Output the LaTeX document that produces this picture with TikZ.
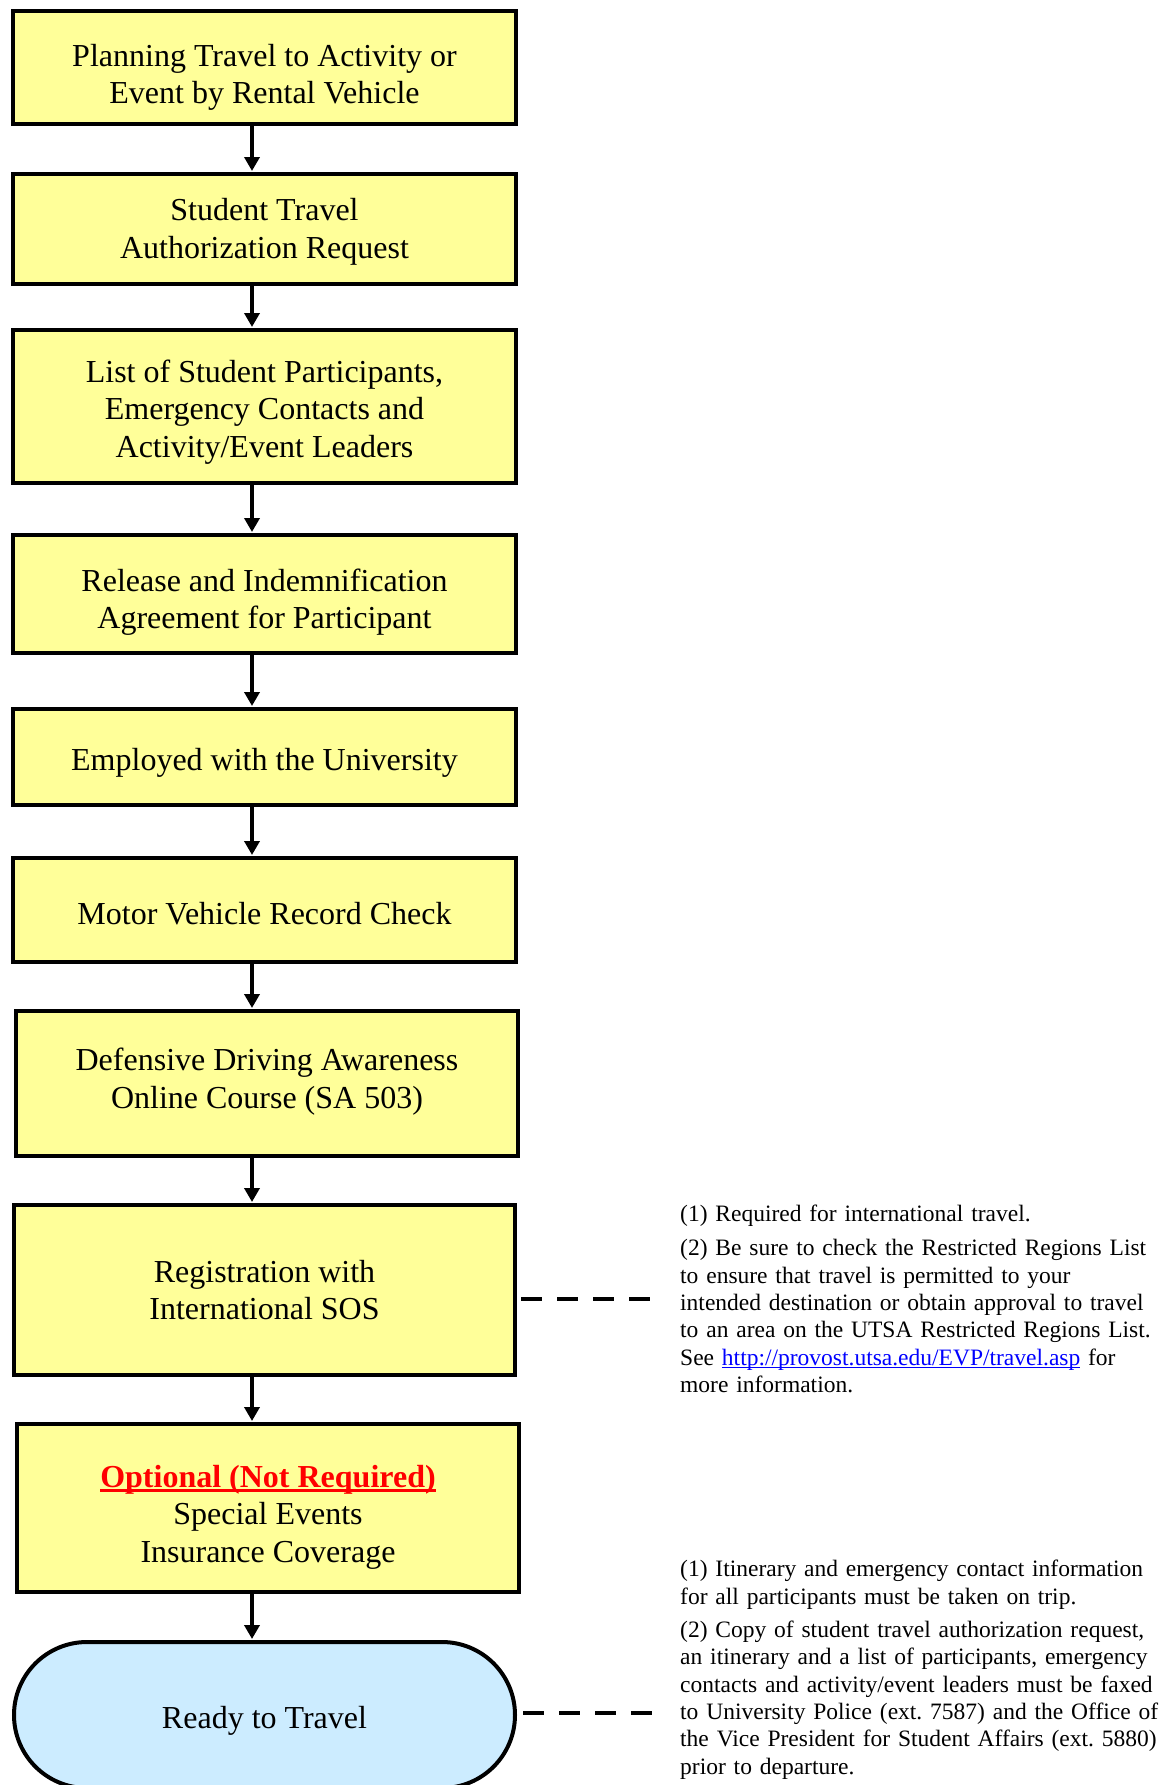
\documentclass[tikz,border=0pt]{standalone}
\usepackage{fontspec}
\setmainfont{Liberation Serif}
\usetikzlibrary{arrows.meta}
\definecolor{boxyellow}{RGB}{255,255,153}
\definecolor{endblue}{RGB}{204,236,255}
\definecolor{linkblue}{RGB}{0,0,255}
\newcommand{\redul}[1]{\setbox0=\hbox{#1}\rlap{\rule[-4.5pt]{\wd0}{2.6pt}}\box0}
\newcommand{\linkul}[1]{\setbox0=\hbox{#1}\rlap{\rule[-3pt]{\wd0}{1.2pt}}\box0}
\frenchspacing
\tikzset{
  stepbox/.style={draw=black, line width=4pt, fill=boxyellow, rectangle, inner sep=0pt},
  endbox/.style={draw=black, line width=4pt, fill=endblue, rectangle, rounded corners=73pt,
    inner sep=0pt},
  boxtext/.style={align=center, inner sep=0pt, font=\fontsize{32}{37.5}\selectfont},
  arr/.style={line width=3.6pt, -{Triangle[length=14pt,width=15pt]}, shorten >=1pt},
  dashline/.style={line width=4pt, dash pattern=on 21pt off 15pt},
  note/.style={anchor=north west, inner sep=0pt, align=left, text width=520pt,
    font=\fontsize{23.5}{27.4}\selectfont}
}
\begin{document}
\begin{tikzpicture}[x=1pt,y=-1pt]
\useasboundingbox (0,0) rectangle (1174,1785);
\fill[white] (0,0) rectangle (1174,1785);

\node[stepbox, minimum width=503pt, minimum height=113pt] (b1) at (264.5,67.5) {};
\node[stepbox, minimum width=503pt, minimum height=110pt] (b2) at (264.5,229) {};
\node[stepbox, minimum width=503pt, minimum height=153pt] (b3) at (264.5,406.5) {};
\node[stepbox, minimum width=503pt, minimum height=118pt] (b4) at (264.5,594) {};
\node[stepbox, minimum width=503pt, minimum height=96pt] (b5) at (264.5,757) {};
\node[stepbox, minimum width=503pt, minimum height=104pt] (b6) at (264.5,910) {};
\node[stepbox, minimum width=502pt, minimum height=145pt] (b7) at (267,1083.5) {};
\node[stepbox, minimum width=501pt, minimum height=170pt] (b8) at (264.5,1290) {};
\node[stepbox, minimum width=502pt, minimum height=168pt] (b9) at (268,1508) {};
\node[endbox, minimum width=501pt, minimum height=146pt] (b10) at (264.5,1715) {};

\node[boxtext] (t1) at ([yshift=-10pt]b1.center)
  {Planning Travel to Activity or\\Event by Rental Vehicle};
\node[boxtext] (t2) at ([yshift=-3pt]b2.center)
  {Student Travel\\Authorization Request};
\node[boxtext] (t3) at ([yshift=-5.5pt]b3.center)
  {List of Student Participants,\\Emergency Contacts and\\Activity/Event Leaders};
\node[boxtext] (t4) at ([yshift=-8pt]b4.center)
  {Release and Indemnification\\Agreement for Participant};
\node[boxtext] (t5) at ([yshift=-5.5pt]b5.center)
  {Employed with the University};
\node[boxtext] (t6) at ([yshift=-3.5pt]b6.center)
  {Motor Vehicle Record Check};
\node[boxtext] (t7) at ([yshift=1.7pt]b7.center)
  {Defensive Driving Awareness\\Online Course (SA 503)};
\node[boxtext] (t8) at (b8.center)
  {Registration with\\International SOS};
\node[boxtext] (t9) at ([yshift=-9pt]b9.center)
  {\textcolor{red}{\redul{\textbf{Optional (Not Required)}}}\\Special Events\\Insurance Coverage};
\node[boxtext] (t10) at ([yshift=-6pt]b10.center)
  {Ready to Travel};

\coordinate (ax) at (252,0);
\draw[arr] (b1.south -| ax) -- (b2.north -| ax);
\draw[arr] (b2.south -| ax) -- (b3.north -| ax);
\draw[arr] (b3.south -| ax) -- (b4.north -| ax);
\draw[arr] (b4.south -| ax) -- (b5.north -| ax);
\draw[arr] (b5.south -| ax) -- (b6.north -| ax);
\draw[arr] (b6.south -| ax) -- (b7.north -| ax);
\draw[arr] (b7.south -| ax) -- (b8.north -| ax);
\draw[arr] (b8.south -| ax) -- (b9.north -| ax);
\draw[arr] (b9.south -| ax) -- (b10.north -| ax);

\node[note] (n1) at (680,1205)
  {(1) Required for international travel.\\[6.6pt]
   (2) Be sure to check the Restricted Regions List\\
   to ensure that travel is permitted to your\\
   intended destination or obtain approval to travel\\
   to an area on the UTSA Restricted Regions List.\\
   See \textcolor{linkblue}{\linkul{http://provost.utsa.edu/EVP/travel.asp}} for\\
   more information.};
\node[note] (n2) at (680,1560)
  {(1) Itinerary and emergency contact information\\
   for all participants must be taken on trip.\\[5.8pt]
   (2) Copy of student travel authorization request,\\
   an itinerary and a list of participants, emergency\\
   contacts and activity/event leaders must be faxed\\
   to University Police (ext. 7587) and the Office of\\
   the Vice President for Student Affairs (ext. 5880)\\
   prior to departure.};

\coordinate (d1) at (655,1298.5);
\coordinate (d2) at (658,1713);
\draw[dashline] ([xshift=4pt]b8.east |- d1) -- (d1);
\draw[dashline] ([xshift=6pt]b10.east |- d2) -- (d2);
\end{tikzpicture}
\end{document}
